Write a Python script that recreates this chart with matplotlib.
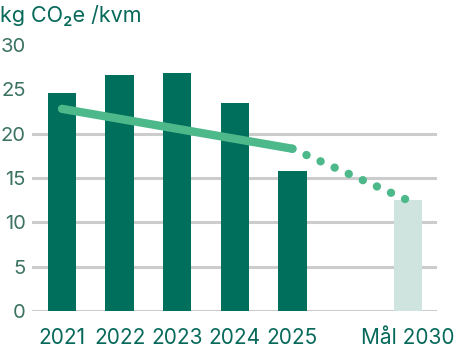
import matplotlib
matplotlib.use("Agg")
import matplotlib.pyplot as plt

categories = ["2021", "2022", "2023", "2024", "2025", "Mål 2030"]
positions = [0, 1, 2, 3, 4, 6]
values = [24.6, 26.6, 26.8, 23.5, 15.8, 12.5]
is_target = [False, False, False, False, False, True]

trend_solid_x = [0, 4]
trend_solid_y = [22.8, 18.3]
trend_dotted_x = [4, 6]
trend_dotted_y = [18.3, 12.5]

yticks = [0, 5, 10, 15, 20, 25, 30]
grid_levels = [0, 5, 10, 15, 20]

DARK = "#006F5B"
LIGHT = "#CFE3DF"
LINE = "#4DB98B"
GRID = "#CCCCCC"
TXT = "#07695A"
YTXT = "#3B7262"

plt.rcParams['font.family'] = ['Inter', 'DejaVu Sans']

fig = plt.figure(figsize=(4.70, 3.49), dpi=100)
ax = fig.add_axes([32/470, 1 - 311/349, (437-32)/470, (311-45)/349])

ax.hlines(grid_levels, 0, 1, transform=ax.get_yaxis_transform(),
          colors=GRID, linewidth=2.2, capstyle='round', zorder=0)

colors = [LIGHT if t else DARK for t in is_target]
ax.bar(positions, values, width=0.49, color=colors, zorder=2)

ax.plot(trend_solid_x, trend_solid_y, color=LINE, linewidth=6,
        solid_capstyle='round', zorder=3)
ax.plot(trend_dotted_x, trend_dotted_y, color=LINE, linewidth=6,
        linestyle=(0, (0.01, 1.84)), dash_capstyle='round', zorder=3)

ax.set_xlim(-0.52, 6.51)
ax.set_ylim(0, 30)
ax.set_yticks(yticks)
ax.set_xticks(positions)
ax.set_xticklabels(categories)
for s in ax.spines.values():
    s.set_visible(False)
ax.tick_params(axis='both', length=0)
ax.tick_params(axis='y', pad=4.5, labelsize=14.5, labelcolor=YTXT)
ax.tick_params(axis='x', pad=12, labelsize=15, labelcolor=TXT)

fig.text(0.0, 1 - 15/349, "kg CO₂e /kvm", ha='left', va='center',
         fontsize=15.5, color=TXT)

fig.savefig("out.png", dpi=100)
